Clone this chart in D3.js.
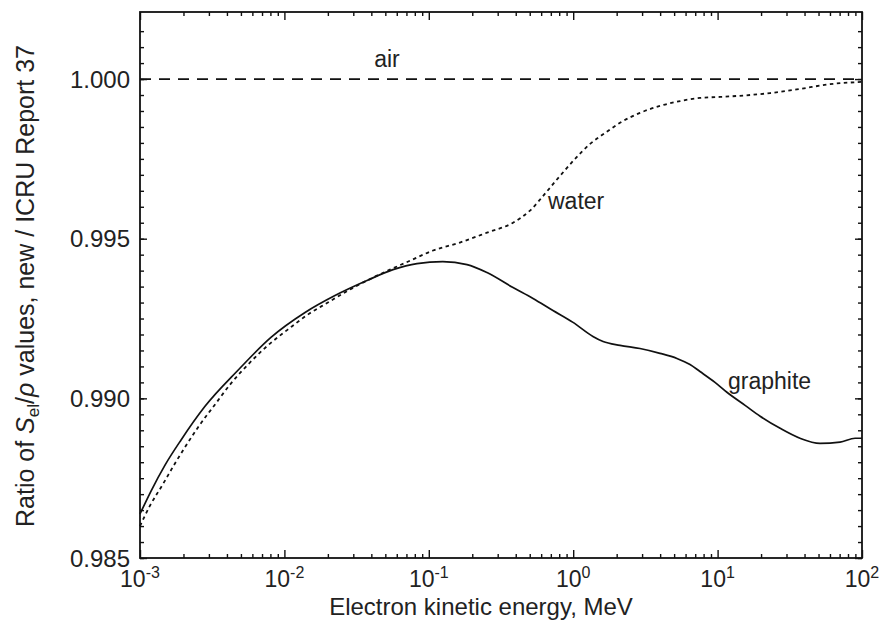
<!DOCTYPE html>
<html>
<head>
<meta charset="utf-8">
<script src="https://cdn.jsdelivr.net/npm/d3@7"></script>
<style>
  html, body { margin: 0; padding: 0; background: #fff; }
  svg { display: block; }
  text { font-family: "Liberation Sans", Arial, Helvetica, sans-serif; fill: #222; }
</style>
</head>
<body>
<svg id="chart" width="883" height="626"></svg>
<script>
// ---------- data (energy in MeV, ratio new / ICRU 37) ----------
const graphiteEnergy = [0.001, 0.00119, 0.00149, 0.00192, 0.00282, 0.00477, 0.00807, 0.0139, 0.0224, 0.0373, 0.0565, 0.0828, 0.125, 0.184, 0.253, 0.383, 0.527, 0.724, 0.997, 1.37, 1.61, 2.11, 2.90, 3.99, 5.23, 6.44, 7.55, 9.59, 11.6, 15.5, 19.7, 27.1, 37.2, 51.2, 70.5, 89.5, 100];
const graphiteRatio  = [0.98638, 0.98709, 0.98791, 0.98869, 0.98975, 0.99088, 0.99191, 0.99269, 0.99322, 0.99369, 0.99403, 0.99422, 0.99428, 0.99419, 0.99394, 0.99347, 0.99313, 0.99275, 0.99238, 0.99194, 0.99178, 0.99166, 0.99156, 0.99141, 0.99125, 0.99106, 0.99084, 0.99050, 0.99019, 0.98978, 0.98944, 0.98906, 0.98875, 0.98859, 0.98863, 0.98875, 0.98875];

const waterEnergy = [0.001, 0.00117, 0.00144, 0.00175, 0.00205, 0.00252, 0.00331, 0.00427, 0.00560, 0.00769, 0.0106, 0.0146, 0.0200, 0.0285, 0.0373, 0.0538, 0.0741, 0.107, 0.164, 0.253, 0.383, 0.502, 0.638, 0.811, 1.03, 1.31, 1.66, 2.11, 2.90, 3.99, 5.50, 7.55, 10.4, 16.8, 23.1, 37.2, 60.0, 100];
const waterRatio  = [0.98600, 0.98663, 0.98731, 0.98797, 0.98847, 0.98909, 0.98981, 0.99047, 0.99106, 0.99166, 0.99216, 0.99263, 0.99300, 0.99341, 0.99369, 0.99403, 0.99431, 0.99463, 0.99488, 0.99519, 0.99550, 0.99588, 0.99641, 0.99697, 0.99750, 0.99797, 0.99831, 0.99863, 0.99894, 0.99916, 0.99931, 0.99941, 0.99944, 0.99950, 0.99956, 0.99969, 0.99984, 0.99991];

const airEnergy = [0.001, 100];
const airRatio  = [1.000, 1.000];

const xTickExponents = [-3, -2, -1, 0, 1, 2];
const yTickValues = [0.985, 0.990, 0.995, 1.000];
const yTickLabels = ["0.985", "0.990", "0.995", "1.000"];
const seriesLabels = ["air", "water", "graphite"];

// ---------- layout ----------
const svg = d3.select("#chart");
const plot = { left: 140, top: 12, right: 862, bottom: 558 };

const x = d3.scaleLog().domain([0.001, 100]).range([plot.left, plot.right]);
const y = d3.scaleLinear().domain([0.985, 1.0021]).range([plot.bottom, plot.top]);

const majorX = xTickExponents.map(e => Math.pow(10, e));
const minorX = [];
for (let i = 0; i < xTickExponents.length - 1; i++) {
  for (let m = 2; m <= 9; m++) minorX.push(m * Math.pow(10, xTickExponents[i]));
}
const minorY = d3.range(0, 35).map(i => 0.985 + i * 0.0005).filter(v => v <= 1.0016);

function styleAxis(g) {
  g.select(".domain").remove();
  g.selectAll(".tick line").attr("stroke", "#111").attr("stroke-width", 1.4);
  g.selectAll(".tick text").remove();
}

// bottom / top ticks (inward)
svg.append("g").attr("transform", `translate(0,${plot.bottom})`)
  .call(d3.axisBottom(x).tickValues(majorX).tickSize(-8).tickFormat("")).call(styleAxis);
svg.append("g").attr("transform", `translate(0,${plot.bottom})`)
  .call(d3.axisBottom(x).tickValues(minorX).tickSize(-4).tickFormat("")).call(styleAxis);
svg.append("g").attr("transform", `translate(0,${plot.top})`)
  .call(d3.axisTop(x).tickValues(majorX).tickSize(-8).tickFormat("")).call(styleAxis);
svg.append("g").attr("transform", `translate(0,${plot.top})`)
  .call(d3.axisTop(x).tickValues(minorX).tickSize(-4).tickFormat("")).call(styleAxis);

// left / right ticks (inward)
svg.append("g").attr("transform", `translate(${plot.left},0)`)
  .call(d3.axisLeft(y).tickValues(yTickValues).tickSize(-7).tickFormat("")).call(styleAxis);
svg.append("g").attr("transform", `translate(${plot.left},0)`)
  .call(d3.axisLeft(y).tickValues(minorY).tickSize(-4).tickFormat("")).call(styleAxis);
svg.append("g").attr("transform", `translate(${plot.right},0)`)
  .call(d3.axisRight(y).tickValues(yTickValues).tickSize(-7).tickFormat("")).call(styleAxis);
svg.append("g").attr("transform", `translate(${plot.right},0)`)
  .call(d3.axisRight(y).tickValues(minorY).tickSize(-4).tickFormat("")).call(styleAxis);

// frame
svg.append("rect")
  .attr("x", plot.left).attr("y", plot.top)
  .attr("width", plot.right - plot.left).attr("height", plot.bottom - plot.top)
  .attr("fill", "none").attr("stroke", "#111").attr("stroke-width", 1.8);

// y tick labels
svg.append("g").selectAll("text").data(yTickValues).join("text")
  .attr("x", plot.left - 10).attr("y", d => y(d))
  .attr("dy", "0.36em")
  .attr("text-anchor", "end")
  .attr("font-size", 24)
  .text((d, i) => yTickLabels[i]);

// x tick labels 10^n
const xl = svg.append("g").selectAll("text").data(xTickExponents).join("text")
  .attr("x", d => x(Math.pow(10, d)))
  .attr("y", 587)
  .attr("text-anchor", "middle")
  .attr("font-size", 23);
xl.append("tspan").text("10");
xl.append("tspan").attr("font-size", 16).attr("dy", -9).text(d => d < 0 ? "-" + Math.abs(d) : String(d));

// axis titles
svg.append("text")
  .attr("x", (plot.left + plot.right) / 2 - 20).attr("y", 615)
  .attr("text-anchor", "middle")
  .attr("font-size", 24)
  .text("Electron kinetic energy, MeV");

const yt = svg.append("text")
  .attr("transform", "translate(34,286) rotate(-90)")
  .attr("text-anchor", "middle")
  .attr("font-size", 25);
yt.append("tspan").text("Ratio of ");
yt.append("tspan").attr("font-style", "italic").text("S");
yt.append("tspan").attr("font-size", 17).attr("dy", 5).text("el");
yt.append("tspan").attr("dy", -5).text("/");
yt.append("tspan").attr("font-style", "italic").text("ρ");
yt.append("tspan").text(" values, new / ICRU Report 37");

// lines
const line = d3.line().x(d => x(d[0])).y(d => y(d[1])).curve(d3.curveMonotoneX);
const zip = (a, b) => a.map((v, i) => [v, b[i]]);

svg.append("path").datum(zip(airEnergy, airRatio))
  .attr("d", line).attr("fill", "none").attr("stroke", "#111")
  .attr("stroke-width", 1.8).attr("stroke-dasharray", "11,8");

svg.append("path").datum(zip(waterEnergy, waterRatio))
  .attr("d", line).attr("fill", "none").attr("stroke", "#111")
  .attr("stroke-width", 1.8).attr("stroke-dasharray", "3.5,3.5");

svg.append("path").datum(zip(graphiteEnergy, graphiteRatio))
  .attr("d", line).attr("fill", "none").attr("stroke", "#111")
  .attr("stroke-width", 1.7);

// series labels
const labelPos = [
  { x: 387, y: 67, anchor: "middle" },
  { x: 548, y: 209, anchor: "start" },
  { x: 728, y: 389, anchor: "start" }
];
svg.append("g").selectAll("text").data(seriesLabels).join("text")
  .attr("x", (d, i) => labelPos[i].x)
  .attr("y", (d, i) => labelPos[i].y)
  .attr("text-anchor", (d, i) => labelPos[i].anchor)
  .attr("font-size", 23)
  .text(d => d);
</script>
</body>
</html>
